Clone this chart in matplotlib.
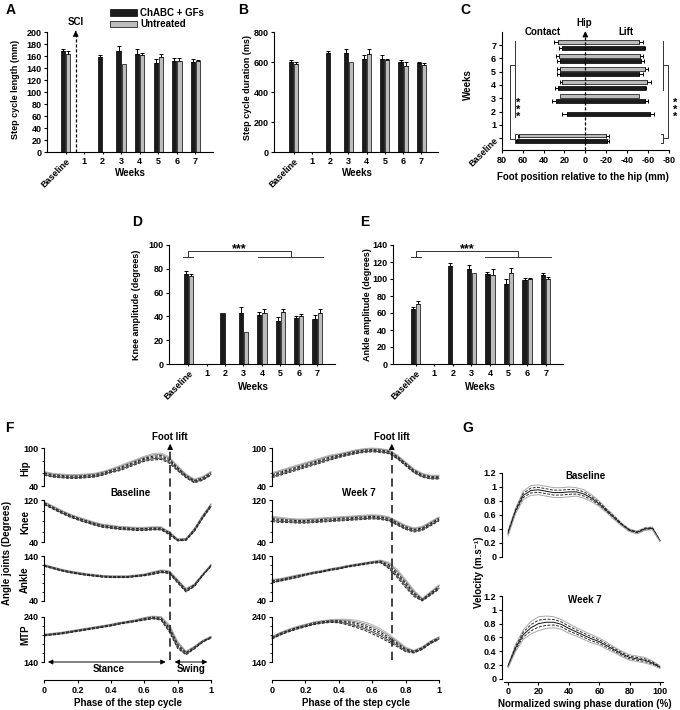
import numpy as np
import matplotlib
matplotlib.use("Agg")
import matplotlib.pyplot as plt
from matplotlib.patches import Rectangle
from matplotlib.ticker import MultipleLocator

plt.rcParams["font.family"] = ["Liberation Sans", "DejaVu Sans"]
plt.rcParams["font.weight"] = "bold"
plt.rcParams["font.size"] = 6.5
plt.rcParams["axes.unicode_minus"] = False
plt.rcParams["axes.linewidth"] = 0.8
plt.rcParams["xtick.major.width"] = 0.8
plt.rcParams["ytick.major.width"] = 0.8
plt.rcParams["xtick.major.size"] = 2.5
plt.rcParams["ytick.major.size"] = 2.5
plt.rcParams["xtick.major.pad"] = 2
plt.rcParams["ytick.major.pad"] = 1.5

nan = np.nan
weeks = ["Baseline", "1", "2", "3", "4", "5", "6", "7"]

# A - step cycle length (mm)
length_chabc = [168, nan, 159, 169, 163, 149, 152, 150]
length_chabc_err = [4, 0, 3, 7, 8, 6, 4, 5]
length_untr = [163, nan, nan, 146, 161, 159, 152, 151]
length_untr_err = [5, 0, 0, 0, 4, 4, 5, 3]

# B - step cycle duration (ms)
dur_chabc = [600, nan, 660, 660, 622, 622, 598, 592]
dur_chabc_err = [11, 0, 15, 29, 22, 22, 13, 11]
dur_untr = [587, nan, nan, 597, 656, 611, 576, 582]
dur_untr_err = [15, 0, 0, 0, 33, 11, 22, 12]

# C - foot position relative to hip (mm): contact (+) / lift (-)
contact_chabc = [65, nan, 18, 28, 26, 24, 24, 22]
contact_chabc_err = [1, 0, 4, 4, 3, 3, 3, 3]
lift_chabc = [-21, nan, -62, -57, -57, -51, -53, -56]
lift_chabc_err = [2, 0, 4, 3, 1, 4, 3, 1]
contact_untr = [63, nan, nan, 24, 22, 24, 25, 26]
contact_untr_err = [1, 0, 0, 0, 2, 3, 3, 4]
lift_untr = [-20, nan, nan, -51, -59, -57, -52, -51]
lift_untr_err = [3, 0, 0, 0, 4, 3, 3, 4]

# D - knee amplitude (degrees)
knee_chabc = [76, nan, 43, 43, 41, 36.5, 38.5, 38]
knee_chabc_err = [2.5, 0, 0, 5, 3, 3, 2, 3]
knee_untr = [74, nan, nan, 27, 43, 43.5, 40, 43]
knee_untr_err = [2, 0, 0, 0, 3, 2.5, 2, 3]

# E - ankle amplitude (degrees)
ankle_chabc = [65, nan, 115, 112, 106, 94, 99, 104.5]
ankle_chabc_err = [2, 0, 4, 4, 2.5, 6, 2.5, 2.5]
ankle_untr = [71, nan, nan, 107, 104.5, 107, 99.5, 99.5]
ankle_untr_err = [3.5, 0, 0, 0, 7.5, 6, 2, 3]

# F - joint angles over the step cycle (mean trace and spread of traces)
phase = [0, 0.05, 0.1, 0.15, 0.2, 0.25, 0.3, 0.35, 0.4, 0.45, 0.5,
         0.55, 0.6, 0.65, 0.7, 0.75, 0.8, 0.85, 0.9, 0.95, 1.0]
hip_bl = [60, 57, 56, 55, 55, 56, 57, 60, 64, 68, 73, 78, 83, 86, 87, 81, 68, 56, 48, 52, 60]
hip_bl_band = [3, 3, 3, 3, 3, 3, 3, 3, 3, 4, 4, 4, 4, 5, 5, 5, 4, 3, 3, 3, 3]
knee_bl = [114, 106, 98, 91, 85, 80, 75, 71, 69, 67, 66, 65, 65, 66, 66, 57, 44, 45, 63, 88, 110]
knee_bl_band = [3, 3, 3, 3, 3, 3, 3, 3, 3, 3, 3, 3, 3, 3, 3, 3, 2, 2, 3, 3, 3]
ankle_bl = [119, 114, 109, 105, 102, 99, 97, 95, 94, 94, 94, 96, 98, 102, 106, 104, 84, 64, 75, 98, 119]
ankle_bl_band = [2, 2, 2, 2, 2, 2, 2, 2, 2, 2, 2, 2, 2, 3, 3, 3, 4, 4, 3, 2, 2]
mtp_bl = [200, 202, 204, 207, 210, 213, 216, 219, 222, 226, 229, 232, 236, 239, 237, 215, 178, 160, 172, 186, 195]
mtp_bl_band = [2, 2, 2, 2, 2, 2, 2, 2, 2, 2, 2, 2, 3, 3, 4, 8, 8, 4, 3, 2, 2]

hip_w7 = [57, 61, 65, 69, 73, 77, 81, 85, 88, 91, 94, 96, 97, 96, 94, 86, 75, 64, 57, 54, 54]
hip_w7_band = [4, 4, 4, 4, 4, 4, 4, 4, 3, 3, 3, 3, 3, 3, 3, 3, 3, 3, 3, 3, 3]
knee_w7 = [84, 82, 81, 80, 80, 81, 82, 83, 84, 85, 86, 87, 88, 87, 84, 76, 68, 63, 66, 75, 84]
knee_w7_band = [5, 5, 4, 4, 4, 4, 4, 4, 4, 4, 4, 4, 4, 4, 4, 4, 4, 4, 4, 4, 4]
ankle_w7 = [84, 87, 91, 95, 99, 103, 106, 110, 113, 117, 120, 123, 126, 128, 119, 101, 79, 57, 43, 57, 71]
ankle_w7_band = [4, 3, 3, 3, 2, 2, 2, 2, 2, 2, 2, 2, 2, 3, 7, 9, 9, 7, 3, 4, 5]
mtp_w7 = [194, 203, 210, 216, 221, 226, 229, 231, 231, 229, 225, 220, 213, 204, 193, 181, 168, 163, 171, 184, 193]
mtp_w7_band = [3, 3, 3, 3, 3, 3, 3, 3, 4, 6, 8, 9, 10, 10, 9, 7, 5, 3, 3, 3, 3]

# G - swing velocity (m/s)
swing_pct = [0, 5, 10, 15, 20, 25, 30, 35, 40, 45, 50, 55, 60, 65, 70, 75, 80, 85, 90, 95, 100]
vel_bl = [0.34, 0.66, 0.88, 0.95, 0.96, 0.94, 0.92, 0.92, 0.93, 0.93, 0.90,
          0.84, 0.76, 0.66, 0.56, 0.46, 0.38, 0.35, 0.40, 0.41, 0.23]
vel_bl_band = [0.04, 0.04, 0.06, 0.07, 0.07, 0.07, 0.07, 0.07, 0.07, 0.06, 0.06,
               0.05, 0.04, 0.03, 0.03, 0.02, 0.02, 0.02, 0.02, 0.02, 0.01]
vel_w7 = [0.18, 0.45, 0.64, 0.74, 0.80, 0.82, 0.82, 0.79, 0.73, 0.68, 0.63,
          0.58, 0.54, 0.48, 0.42, 0.36, 0.31, 0.29, 0.27, 0.23, 0.17]
vel_w7_band = [0.02, 0.05, 0.07, 0.09, 0.10, 0.09, 0.08, 0.07, 0.07, 0.06, 0.06,
               0.06, 0.05, 0.05, 0.04, 0.04, 0.04, 0.04, 0.04, 0.03, 0.02]

W, H = 680, 710
fig = plt.figure(figsize=(W / 100, H / 100), dpi=100)

BLACK = "#1b1b1b"
GRAY = "#bcbcbc"
OFF, BW = 0.14, 0.23


def rect(x0, y0, x1, y1):
    return [x0 / W, 1 - y1 / H, (x1 - x0) / W, (y1 - y0) / H]


def ftext(x, y, s, **kw):
    kw.setdefault("ha", "center")
    kw.setdefault("va", "center")
    fig.text(x / W, 1 - y / H, s, **kw)


def bar_panel(ax, vb, eb, vg, eg, yticks, xlim):
    pos = np.arange(len(weeks))
    for vals, errs, sh, col in ((vb, eb, -OFF, BLACK), (vg, eg, OFF, GRAY)):
        vals = np.asarray(vals, float)
        errs = np.asarray(errs, float)
        ok = ~np.isnan(vals)
        ax.bar(pos[ok] + sh, vals[ok], width=BW, color=col,
               edgecolor="black", linewidth=0.5, zorder=2)
        has = ok & (errs > 0)
        ax.errorbar(pos[has] + sh, vals[has], yerr=[np.zeros(has.sum()), errs[has]],
                    fmt="none", ecolor="black", elinewidth=0.7, capsize=1.6,
                    capthick=0.7, zorder=1)
    ax.set_xlim(*xlim)
    ax.set_ylim(yticks[0], yticks[-1])
    ax.set_yticks(yticks)
    ax.set_xticks(pos)
    ax.set_xticklabels(weeks)
    lab = ax.get_xticklabels()[0]
    lab.set_rotation(45)
    lab.set_ha("right")
    lab.set_rotation_mode("anchor")
    ax.tick_params(axis="x", length=1.5)
    for s in ("top", "right"):
        ax.spines[s].set_visible(False)


# ---- A
axa = fig.add_axes(rect(47, 32, 213, 152))
bar_panel(axa, length_chabc, length_chabc_err, length_untr, length_untr_err,
          np.arange(0, 201, 20), (-1.0, 7.95))
axa.plot([0.55, 0.55], [0, 199], ls=(0, (2.5, 1.5)), lw=0.9, color="black", clip_on=False)
axa.annotate("", xy=(0.55, 207), xytext=(0.55, 196), annotation_clip=False,
             arrowprops=dict(arrowstyle="-|>", color="black", lw=0.8, mutation_scale=8))
ftext(76, 22, "SCI", fontsize=7)
fig.patches.append(Rectangle((110 / W, 1 - 16 / H), 27 / W, 7 / H, transform=fig.transFigure,
                             facecolor=BLACK, edgecolor="black", lw=0.5))
fig.patches.append(Rectangle((110 / W, 1 - 27 / H), 27 / W, 6 / H, transform=fig.transFigure,
                             facecolor=GRAY, edgecolor="black", lw=0.5))
ftext(140, 12.5, "ChABC + GFs", ha="left", fontsize=7)
ftext(140, 24, "Untreated", ha="left", fontsize=7)
ftext(15, 89, "Step cycle length (mm)", rotation=90)
ftext(130.7, 173.5, "Weeks", fontsize=7)

# ---- B
axb = fig.add_axes(rect(274, 32, 438, 152))
bar_panel(axb, dur_chabc, dur_chabc_err, dur_untr, dur_untr_err,
          np.arange(0, 801, 200), (-1.09, 7.92))
ftext(247, 87, "Step cycle duration (ms)", rotation=90)
ftext(357, 173.5, "Weeks", fontsize=7)

# ---- C
axc = fig.add_axes(rect(501.7, 31.7, 669, 150))
ypos = np.arange(len(weeks))
for con, cerr, lif, lerr, sh, col in (
        (contact_untr, contact_untr_err, lift_untr, lift_untr_err, 0.2, GRAY),
        (contact_chabc, contact_chabc_err, lift_chabc, lift_chabc_err, -0.2, BLACK)):
    con = np.asarray(con, float); lif = np.asarray(lif, float)
    cerr = np.asarray(cerr, float); lerr = np.asarray(lerr, float)
    ok = ~np.isnan(con)
    axc.barh(ypos[ok] + sh, con[ok] - lif[ok], left=lif[ok], height=0.28,
             color=col, edgecolor="black", linewidth=0.5, zorder=2)
    h = ok & (cerr > 0)
    axc.errorbar(con[h], ypos[h] + sh, xerr=[np.zeros(h.sum()), cerr[h]], fmt="none",
                 ecolor="black", elinewidth=0.7, capsize=1.6, capthick=0.7, zorder=1)
    h = ok & (lerr > 0)
    axc.errorbar(lif[h], ypos[h] + sh, xerr=[lerr[h], np.zeros(h.sum())], fmt="none",
                 ecolor="black", elinewidth=0.7, capsize=1.6, capthick=0.7, zorder=1)
axc.set_xlim(80, -80)
axc.set_ylim(-0.88, 8.0)
axc.set_xticks(np.arange(80, -81, -20))
axc.set_yticks(ypos)
axc.set_yticklabels(weeks)
lab = axc.get_yticklabels()[0]
lab.set_rotation(45)
lab.set_ha("right")
lab.set_rotation_mode("anchor")
for s in ("top", "right"):
    axc.spines[s].set_visible(False)
axc.plot([0, 0], [-0.88, 7.9], ls=(0, (2.5, 1.5)), lw=0.9, color="black", zorder=3)
axc.annotate("", xy=(0, 8.25), xytext=(0, 7.6), annotation_clip=False,
             arrowprops=dict(arrowstyle="-|>", color="black", lw=0.8, mutation_scale=8))
bk = dict(color="#333333", lw=0.7, clip_on=False)
axc.plot([67, 67], [7.3, 1.6], **bk)
axc.plot([67, 72, 72, 67], [5.5, 5.5, -0.05, -0.05], **bk)
axc.plot([65, 67, 67, 65], [0.3, 0.3, -0.35, -0.35], **bk)
axc.plot([-74, -74], [7.3, 3.6], **bk)
axc.plot([-74, -79.5, -79.5, -74], [5.5, 5.5, 0.0, 0.0], **bk)
axc.plot([-72, -74, -74, -72], [0.3, 0.3, -0.35, -0.35], **bk)
for xs in (64, -86):
    axc.text(xs, 2.15, "*\n*\n*", ha="center", va="center", fontsize=8,
             linespacing=0.62, clip_on=False)
ftext(584, 22.7, "Hip", fontsize=7)
ftext(543, 31.7, "Contact", fontsize=7)
ftext(626, 31.7, "Lift", fontsize=7)
ftext(468, 85, "Weeks", rotation=90, fontsize=7)
ftext(583, 176.7, "Foot position relative to the hip (mm)", fontsize=7)

# ---- D
axd = fig.add_axes(rect(169.3, 245, 335, 364))
bar_panel(axd, knee_chabc, knee_chabc_err, knee_untr, knee_untr_err,
          np.arange(0, 101, 20), (-1.03, 7.97))
axd.plot([0, 0, 5.58, 5.58], [90, 95, 95, 90], **bk)
axd.plot([-0.28, 0.27], [90, 90], **bk)
axd.plot([3.78, 7.3], [90, 90], **bk)
axd.text(2.75, 96.5, "***", ha="center", va="center", fontsize=9, clip_on=False)
ftext(136.7, 305, "Knee amplitude (degrees)", rotation=90)
ftext(253, 386.7, "Weeks", fontsize=7)

# ---- E
axe = fig.add_axes(rect(392.7, 245, 563, 364))
bar_panel(axe, ankle_chabc, ankle_chabc_err, ankle_untr, ankle_untr_err,
          np.arange(0, 141, 20), (-1.24, 7.93))
axe.plot([0, 0, 5.5, 5.5], [126, 133, 133, 126], **bk)
axe.plot([-0.27, 0.28], [126, 126], **bk)
axe.plot([3.73, 7.29], [126, 126], **bk)
axe.text(2.76, 135, "***", ha="center", va="center", fontsize=9, clip_on=False)
ftext(368, 305, "Ankle amplitude (degrees)", rotation=90)
ftext(480, 386.7, "Weeks", fontsize=7)

# ---- F
trace_k = [1.0, 0.6, 0.2, -0.2, -0.6, -1.0]
trace_col = ["#b3b3b3", "#8a8a8a", "#202020", "#202020", "#4a4a4a", "#202020"]
trace_ls = ["-", "-", (0, (3, 1.5)), (0, (3, 1.5)), "-", (0, (3, 1.5))]

rows = [(448, 486, 40, 100, 20), (500, 542, 40, 120, 20),
        (556, 601, 40, 140, 20), (617, 662, 140, 240, 20)]
columns = [
    (44.3, 211, [(hip_bl, hip_bl_band), (knee_bl, knee_bl_band),
                 (ankle_bl, ankle_bl_band), (mtp_bl, mtp_bl_band)], 0.755, "Baseline"),
    (272, 439, [(hip_w7, hip_w7_band), (knee_w7, knee_w7_band),
                (ankle_w7, ankle_w7_band), (mtp_w7, mtp_w7_band)], 0.717, "Week 7"),
]
for ci, (x0, x1, series, lift_at, title) in enumerate(columns):
    for (y0, y1, lo, hi, minor), (mean, band) in zip(rows, series):
        ax = fig.add_axes(rect(x0, y0, x1, y1))
        ax.patch.set_alpha(0)
        for s in ("top", "right", "bottom"):
            ax.spines[s].set_visible(False)
        ax.set_xlim(0, 1)
        ax.set_ylim(lo, hi)
        ax.set_xticks([])
        ax.set_yticks([lo, hi])
        ax.yaxis.set_minor_locator(MultipleLocator(minor))
        ax.tick_params(axis="y", which="minor", length=1.5, width=0.6)
        mean = np.asarray(mean, float)
        band = np.asarray(band, float)
        for k, c, ls in zip(trace_k, trace_col, trace_ls):
            ax.plot(phase, mean + k * band, color=c, ls=ls, lw=0.7, clip_on=False)
    axx = fig.add_axes(rect(x0, 670, x1, 680))
    axx.patch.set_alpha(0)
    for s in ("top", "right", "left"):
        axx.spines[s].set_visible(False)
    axx.set_yticks([])
    axx.set_xlim(0, 1)
    axx.set_xticks([0, 0.2, 0.4, 0.6, 0.8, 1.0])
    axx.set_xticklabels(["0", "0.2", "0.4", "0.6", "0.8", "1"])
    ftext((x0 + x1) / 2, 703.3, "Phase of the step cycle", fontsize=7)

    ov = fig.add_axes(rect(x0, 425, x1, 680))
    ov.set_xlim(0, 1)
    ov.set_ylim(680, 425)
    ov.axis("off")
    ov.patch.set_alpha(0)
    ov.plot([lift_at, lift_at], [660, 448], ls=(0, (5, 3)), lw=1.2, color="#222222")
    ov.annotate("", xy=(lift_at, 441), xytext=(lift_at, 451),
                arrowprops=dict(arrowstyle="-|>", color="black", lw=0.8, mutation_scale=8))
    ov.text(lift_at, 436.5, "Foot lift", ha="center", va="center", fontsize=7)
    ov.text(0.52, 493, title, ha="center", va="center", fontsize=7)
    if ci == 0:
        ov.annotate("", xy=(0.005, 662), xytext=(0.745, 662),
                    arrowprops=dict(arrowstyle="<|-|>", color="black", lw=0.7, mutation_scale=7))
        ov.annotate("", xy=(0.765, 662), xytext=(0.995, 662),
                    arrowprops=dict(arrowstyle="<|-|>", color="black", lw=0.7, mutation_scale=7))
        ov.text(0.385, 669.5, "Stance", ha="center", va="center", fontsize=7)
        ov.text(0.88, 669.5, "Swing", ha="center", va="center", fontsize=7)

for name, yy in (("Hip", 468), ("Knee", 522), ("Ankle", 580), ("MTP", 635)):
    ftext(25, yy, name, rotation=90, fontsize=7)
ftext(7, 553, "Angle joints (Degrees)", rotation=90, fontsize=7)

# ---- G
g_k = [1.0, 0.5, 0.0, -0.5, -1.0]
g_col = ["#a8a8a8", "#2a2a2a", "#111111", "#2a2a2a", "#a8a8a8"]
g_ls = ["-", (0, (3, 1.5)), "-", (0, (3, 1.5)), "-"]
vticks = [0, 0.2, 0.4, 0.6, 0.8, 1.0, 1.2]
vlabels = ["0", "0.2", "0.4", "0.6", "0.8", "1", "1.2"]
for (y0, y1, ylo), (mean, band), title, ty in (
        ((473, 557, 0), (vel_bl, vel_bl_band), "Baseline", 476),
        ((596, 682, -0.045), (vel_w7, vel_w7_band), "Week 7", 600)):
    ax = fig.add_axes(rect(502, y0, 663, y1))
    ax.patch.set_alpha(0)
    ax.set_xlim(-4, 102)
    ax.set_ylim(ylo, 1.2)
    ax.set_yticks(vticks)
    ax.set_yticklabels(vlabels)
    ax.spines["left"].set_bounds(0, 1.2)
    for s in ("top", "right"):
        ax.spines[s].set_visible(False)
    if ylo == 0:
        ax.spines["bottom"].set_visible(False)
        ax.set_xticks([])
    else:
        ax.spines["bottom"].set_bounds(-3, 102)
        ax.set_xticks([0, 20, 40, 60, 80, 100])
        ax.tick_params(axis="x", length=2, pad=1.5)
    mean = np.asarray(mean, float)
    band = np.asarray(band, float)
    for k, c, ls in zip(g_k, g_col, g_ls):
        ax.plot(swing_pct, mean + k * band, color=c, ls=ls, lw=0.7)
    ftext(585, ty, title, fontsize=7)
ftext(585, 704, "Normalized swing phase duration (%)", fontsize=7)
ftext(479, 572, "Velocity (m.s⁻¹)", rotation=90, fontsize=7)

# panel letters
for letter, x, y in (("A", 6, 14), ("B", 238, 14), ("C", 460, 14), ("D", 131.7, 225.7),
                     ("E", 360, 225.7), ("F", 5, 431.7), ("G", 462.7, 431.7)):
    ftext(x, y, letter, ha="left", va="baseline", fontsize=10)

fig.savefig("out.png", dpi=100)
